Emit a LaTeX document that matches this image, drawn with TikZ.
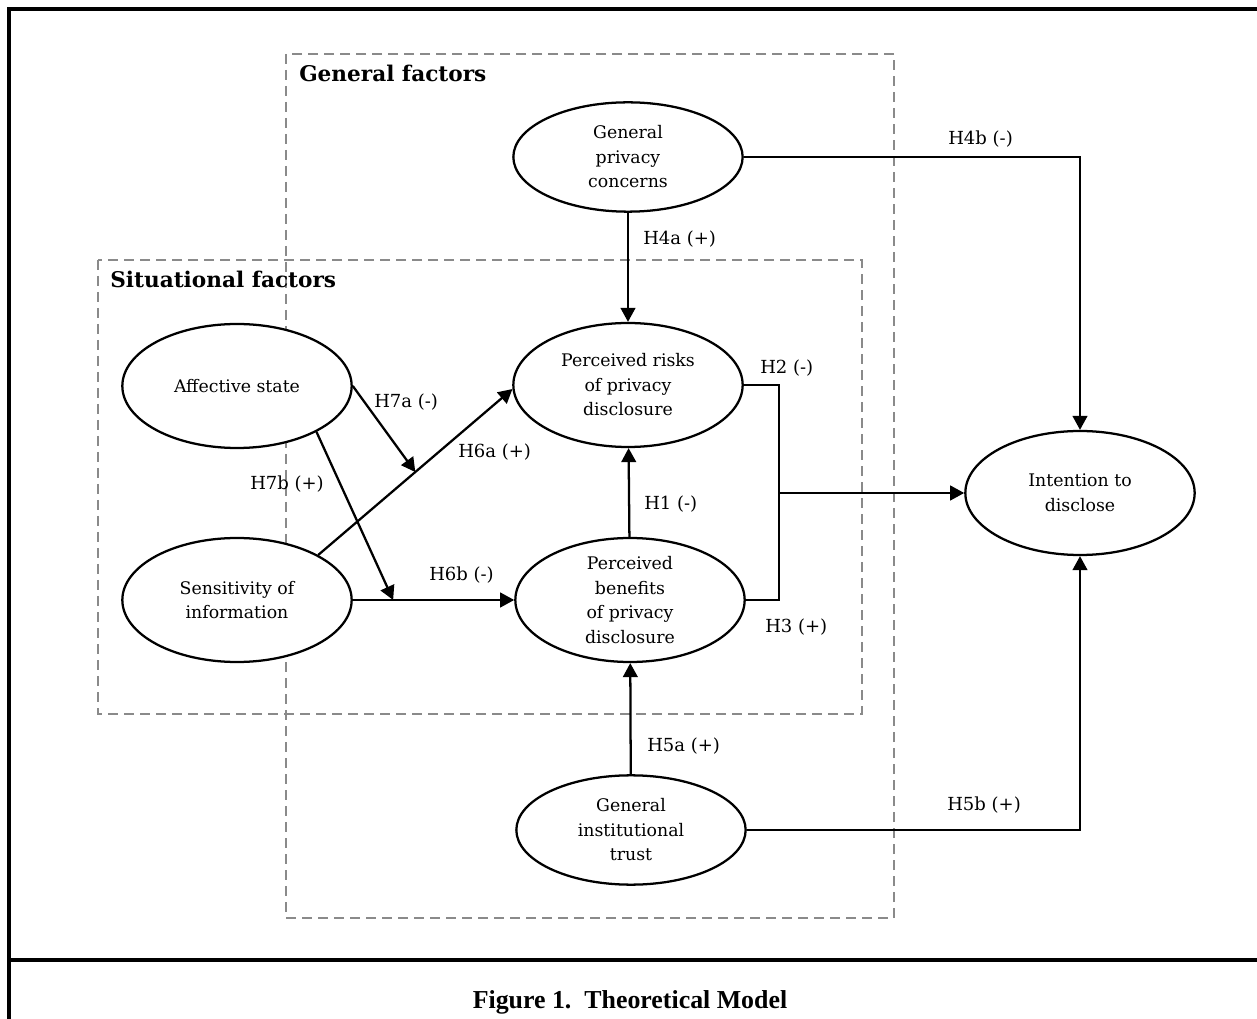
\documentclass[tikz,border=0pt]{standalone}
\usepackage{fontspec}
\setmainfont{DejaVu Serif}
\newfontfamily\capfont{Liberation Serif}
\usetikzlibrary{shapes.geometric,arrows.meta,positioning,calc}
\definecolor{ink}{HTML}{000000}
\definecolor{boxgray}{HTML}{8A8A8A}

\begin{document}
\begin{tikzpicture}[x=0.75pt,y=-0.75pt,
  construct/.style={draw=ink,ellipse,line width=1.7pt,fill=white,inner sep=0pt,
    minimum width=172pt,minimum height=93pt},
  txt/.style={align=center,inner sep=0pt,font=\fontsize{13}{18.4}\selectfont},
  link/.style={draw=ink,line width=1.7pt},
  hyp/.style={link,-{Triangle[length=10.5pt,width=11pt]}},
  region/.style={draw=boxgray,line width=1.5pt,dash pattern=on 7.5pt off 4.5pt},
  heading/.style={anchor=base west,inner sep=0pt,font=\bfseries\fontsize{16.2}{19}\selectfont},
  lbl/.style={anchor=base west,inner sep=0pt,font=\fontsize{13.5}{16}\selectfont}]
  \useasboundingbox (0,0) rectangle (1257,1019);

  % frame and caption
  \draw[ink,line width=2.6pt] (1257,9) -- (9,9) -- (9,1019);
  \draw[ink,line width=2.6pt] (9,960) -- (1257,960);
  \node[anchor=base,inner sep=0pt,font=\capfont\bfseries\fontsize{19.4}{22}\selectfont] (cap)
        at (630,1008) {Figure 1.~~Theoretical Model};

  % factor groups
  \draw[region] (286,54) rectangle (894,918);
  \draw[region] (98,260) rectangle (862,714);
  \node[heading] (gen) at (299,82) {General factors};
  \node[heading] (sit) at (110,288) {Situational factors};

  % constructs
  \node[construct,minimum height=82pt,label={[txt]center:General\\privacy\\concerns}] (gpc) at (628,157) {};
  \node[construct,label={[txt]center:Perceived risks\\of privacy\\disclosure}] (pr) at (628,385) {};
  \node[construct,label={[txt]center:Perceived\\benefits\\of privacy\\disclosure}] (pb) at (630,600) {};
  \node[construct,label={[txt]center:Affective state}] (aff) at (237,386) {};
  \node[construct,label={[txt]center:Sensitivity of\\information}] (sens) at (237,600) {};
  \node[construct,minimum height=82pt,label={[txt]center:General\\institutional\\trust}] (git) at (631,830) {};
  \node[construct,label={[txt]center:Intention to\\disclose}] (itd) at (1080,493) {};

  % hypotheses
  \coordinate (rk) at ($(pr.east)+(35,0)$);
  \coordinate (m6a) at ($(sens.29)!0.5!(pr.182)$);
  \coordinate (m6b) at ($(sens.east)!0.25!(pb.west)$);

  \draw[hyp] (gpc) -- (pr);
  \draw[hyp] (gpc.east) -| (itd.north);
  \draw[hyp] (pb) -- (pr);
  \draw[hyp] (git) -- (pb);
  \draw[hyp] (git.east) -| (itd.south);
  \draw[link] (pr.east) -- (rk) |- (pb.east);
  \draw[hyp] (rk |- itd.west) -- (itd.west);
  \draw[hyp] (sens.29) -- (pr.182);
  \draw[hyp] (sens.east) -- (pb.west);
  \draw[hyp] (aff.east) -- (m6a);
  \draw[hyp] (aff.-30) -- (m6b);

  \node[lbl] (h4a) at (643,245) {H4a (+)};
  \node[lbl] (h4b) at (948,145) {H4b (-)};
  \node[lbl] (h2) at (760,374) {H2 (-)};
  \node[lbl] (h1) at (644,510) {H1 (-)};
  \node[lbl] (h3) at (765,633) {H3 (+)};
  \node[lbl] (h5a) at (647,751) {H5a (+)};
  \node[lbl] (h5b) at (947,810) {H5b (+)};
  \node[lbl] (h7a) at (374,408) {H7a (-)};
  \node[lbl] (h6a) at (458,458) {H6a (+)};
  \node[lbl] (h7b) at (250,490) {H7b (+)};
  \node[lbl] (h6b) at (429,581) {H6b (-)};
\end{tikzpicture}
\end{document}
